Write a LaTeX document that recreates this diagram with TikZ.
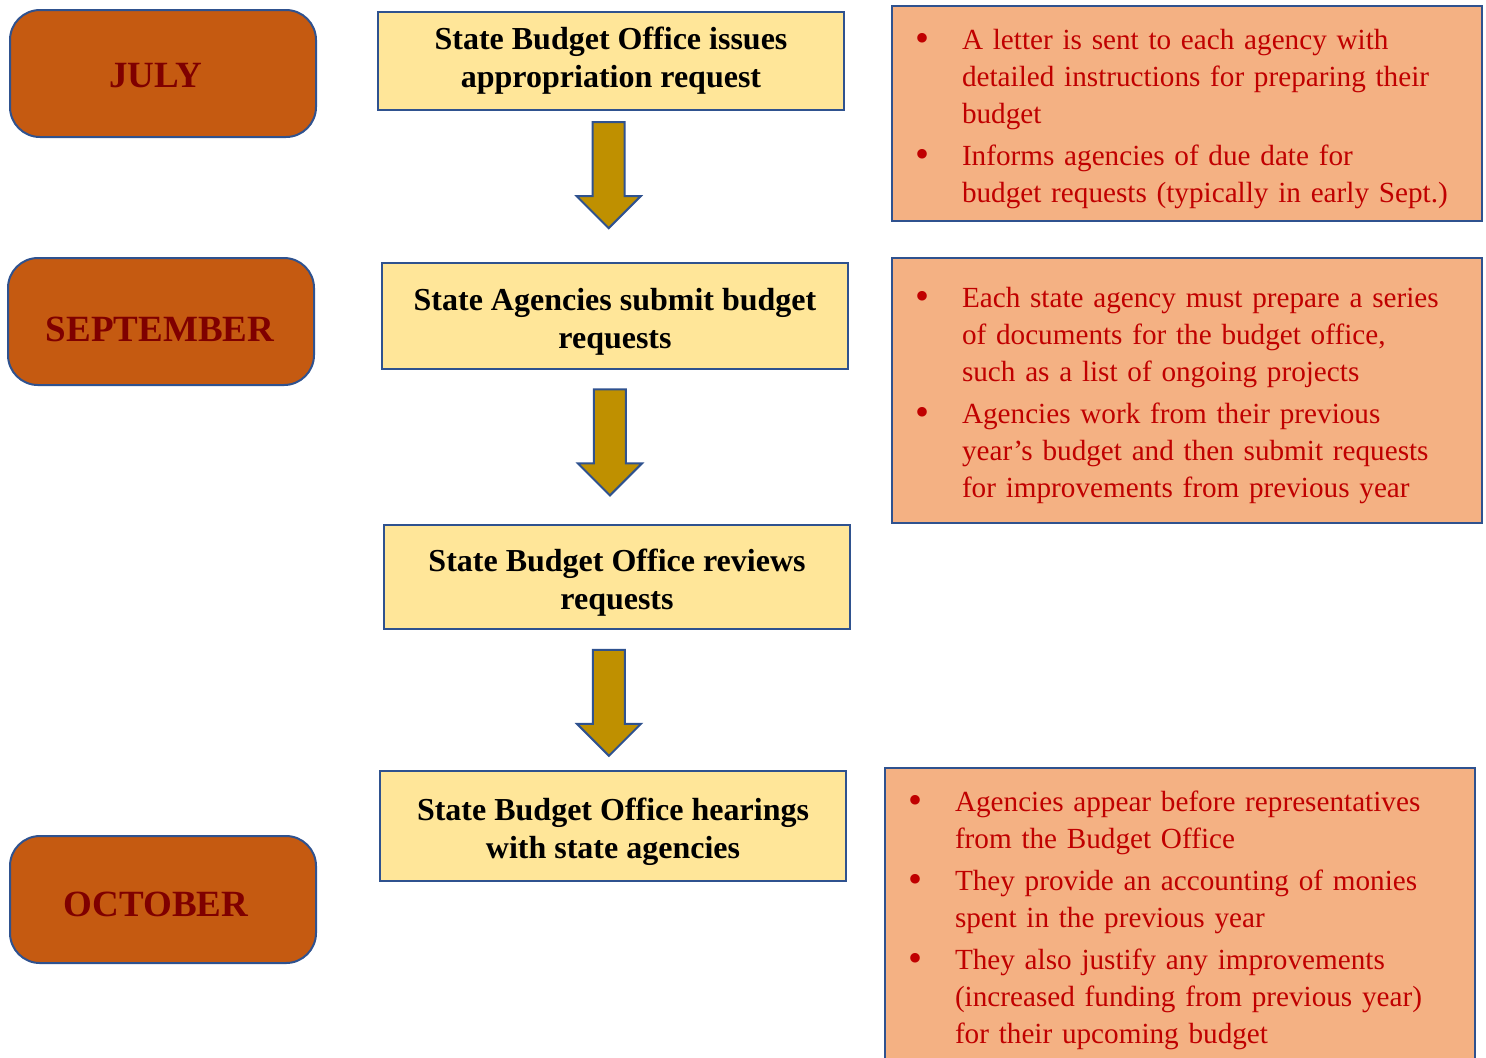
\documentclass[tikz,border=0pt]{standalone}
\usepackage{fontspec}
\setmainfont{Liberation Serif}
\usepackage{xcolor}
\usepackage{tikz}
\usetikzlibrary{shapes,arrows,positioning}
\definecolor{edge}{HTML}{2F528F}
\definecolor{monthfill}{HTML}{C55A11}
\definecolor{monthtext}{HTML}{7F0000}
\definecolor{stagefill}{HTML}{FFE699}
\definecolor{notefill}{HTML}{F4B183}
\definecolor{notetext}{HTML}{C00000}
\definecolor{arrowfill}{HTML}{BF9000}
\newcommand{\bitem}[1]{\makebox[23.5pt][l]{\raisebox{-1pt}{\fontsize{20}{18}\selectfont\textbullet}}\begin{tabular}[t]{@{}l@{}}#1\end{tabular}}
\newcommand{\topgap}[1]{\rule{0pt}{#1}}
\newcommand{\nudge}[3]{\raisebox{#2}[\height][\depth]{\hspace*{#1}#3\hspace*{-#1}}}
\tikzstyle{month} = [draw=edge, fill=monthfill, rectangle, rounded corners=15pt, line width=1pt, minimum width=153pt, minimum height=63.5pt, text=monthtext, font=\fontsize{18.5}{20}\selectfont\bfseries]
\tikzstyle{block} = [draw=edge, fill=stagefill, rectangle, line width=1pt, minimum width=233pt, minimum height=52pt, align=center, font=\fontsize{16}{19}\selectfont\bfseries]
\tikzstyle{note} = [draw=edge, fill=notefill, rectangle, line width=1pt, text width=272pt, inner xsep=11.5pt, align=left, text=notetext, font=\fontsize{14.6}{18.5}\selectfont]
\tikzstyle{bigarrow} = [draw=edge, fill=arrowfill, single arrow, shape border rotate=270, line width=1pt, inner sep=7.5pt, minimum width=31pt, minimum height=53pt, single arrow head extend=8pt, yshift=4pt]
\begin{document}
\begin{tikzpicture}[auto, x=0.5pt, y=-0.5pt]
  \clip (0,0) rectangle (1486,1057);
  \useasboundingbox (0,0) rectangle (1486,1057);

  % budget steps
  \node [block, minimum height=49pt] at (611,61) (issue) {State Budget Office issues\\appropriation request};
  \node [block, below of=issue, node distance=127.5pt, xshift=2pt, minimum height=53pt] (submit) {\topgap{17pt}State Agencies submit budget\\requests};
  \node [block, below of=submit, node distance=130.5pt, xshift=1pt] (review) {\topgap{17pt}State Budget Office reviews\\requests};
  \node [block, below of=review, node distance=124.5pt, xshift=-2pt, minimum height=55pt] (hearing) {\topgap{17pt}State Budget Office hearings\\with state agencies};

  % months
  \node [month] at (163,73.5) (july) {\nudge{-3.5pt}{-1pt}{JULY}};
  \node [month] at (161,321.5) (sept) {\nudge{-0.5pt}{-4pt}{SEPTEMBER}};
  \node [month] at (163,899.5) (oct) {\nudge{-3.5pt}{-2.5pt}{OCTOBER}};

  % details
  \node [note, minimum height=107.5pt] at (1187,113.5) (julynote) {\topgap{18pt}\bitem{A letter is sent to each agency with\\detailed instructions for preparing their\\budget}\\[1.5pt]
    \bitem{Informs agencies of due date for\\budget requests (typically in early Sept.)}};
  \node [note, minimum height=132.5pt] at (1187,390.5) (septnote) {\topgap{18pt}\bitem{Each state agency must prepare a series\\of documents for the budget office,\\such as a list of ongoing projects}\\[1.5pt]
    \bitem{Agencies work from their previous\\year’s budget and then submit requests\\for improvements from previous year}};
  \node [note, minimum height=148.5pt] at (1180,916.5) (octnote) {\topgap{17pt}\bitem{Agencies appear before representatives\\from the Budget Office}\\[1.5pt]
    \bitem{They provide an accounting of monies\\spent in the previous year}\\[1.5pt]
    \bitem{They also justify any improvements\\(increased funding from previous year)\\for their upcoming budget}};

  \path (issue.south) -- node [bigarrow, pos=0.425, xshift=-10.5pt] (a1) {} (submit.north);
  \path (submit.south) -- node [bigarrow, pos=0.47, xshift=-11.5pt] (a2) {} (review.north);
  \path (review.south) -- node [bigarrow, pos=0.52, xshift=-11.5pt] (a3) {} (hearing.north);
\end{tikzpicture}
\end{document}
